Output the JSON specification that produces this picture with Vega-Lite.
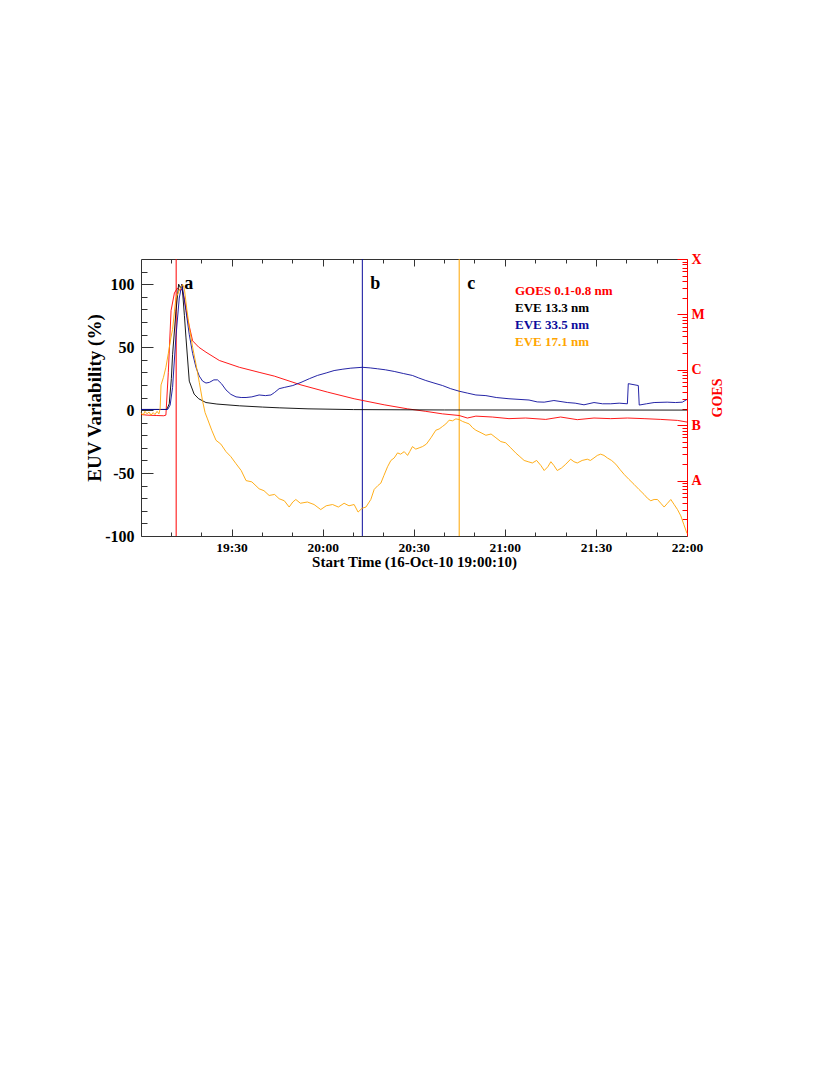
{
  "$schema": "https://vega.github.io/schema/vega-lite/v6.json",
  "width": 546,
  "height": 277,
  "autosize": {"type": "pad"},
  "padding": {"left": 85, "top": 252, "right": 5, "bottom": 5},
  "background": "white",
  "config": {
    "view": {"stroke": null},
    "font": "Liberation Serif",
    "axis": {"grid": false, "labelFont": "Liberation Serif", "titleFont": "Liberation Serif", "labelFontWeight": "bold", "titleFontWeight": "bold", "labelColor": "black", "titleColor": "black", "domainColor": "#333", "tickColor": "#333", "labelOverlap": false}
  },
  "datasets": {
    "curves": [
      {"time": "2010-10-16T19:00:10", "series": "GOES 0.1-0.8 nm", "value": -3.5},
      {"time": "2010-10-16T19:02:10", "series": "GOES 0.1-0.8 nm", "value": -4},
      {"time": "2010-10-16T19:05:10", "series": "GOES 0.1-0.8 nm", "value": -4.3},
      {"time": "2010-10-16T19:07:40", "series": "GOES 0.1-0.8 nm", "value": -4.5},
      {"time": "2010-10-16T19:08:22", "series": "GOES 0.1-0.8 nm", "value": -4},
      {"time": "2010-10-16T19:09:10", "series": "GOES 0.1-0.8 nm", "value": 30},
      {"time": "2010-10-16T19:10:04", "series": "GOES 0.1-0.8 nm", "value": 79},
      {"time": "2010-10-16T19:11:10", "series": "GOES 0.1-0.8 nm", "value": 93},
      {"time": "2010-10-16T19:12:10", "series": "GOES 0.1-0.8 nm", "value": 97},
      {"time": "2010-10-16T19:12:58", "series": "GOES 0.1-0.8 nm", "value": 95},
      {"time": "2010-10-16T19:13:40", "series": "GOES 0.1-0.8 nm", "value": 96},
      {"time": "2010-10-16T19:14:28", "series": "GOES 0.1-0.8 nm", "value": 88},
      {"time": "2010-10-16T19:15:28", "series": "GOES 0.1-0.8 nm", "value": 73},
      {"time": "2010-10-16T19:17:10", "series": "GOES 0.1-0.8 nm", "value": 55},
      {"time": "2010-10-16T19:19:10", "series": "GOES 0.1-0.8 nm", "value": 50},
      {"time": "2010-10-16T19:21:34", "series": "GOES 0.1-0.8 nm", "value": 46},
      {"time": "2010-10-16T19:25:58", "series": "GOES 0.1-0.8 nm", "value": 39.4},
      {"time": "2010-10-16T19:32:34", "series": "GOES 0.1-0.8 nm", "value": 34},
      {"time": "2010-10-16T19:39:04", "series": "GOES 0.1-0.8 nm", "value": 30},
      {"time": "2010-10-16T19:44:04", "series": "GOES 0.1-0.8 nm", "value": 27},
      {"time": "2010-10-16T19:52:52", "series": "GOES 0.1-0.8 nm", "value": 20},
      {"time": "2010-10-16T20:01:34", "series": "GOES 0.1-0.8 nm", "value": 14.3},
      {"time": "2010-10-16T20:10:22", "series": "GOES 0.1-0.8 nm", "value": 9},
      {"time": "2010-10-16T20:20:16", "series": "GOES 0.1-0.8 nm", "value": 4.2},
      {"time": "2010-10-16T20:27:58", "series": "GOES 0.1-0.8 nm", "value": 1},
      {"time": "2010-10-16T20:33:58", "series": "GOES 0.1-0.8 nm", "value": -1},
      {"time": "2010-10-16T20:39:28", "series": "GOES 0.1-0.8 nm", "value": -3},
      {"time": "2010-10-16T20:44:58", "series": "GOES 0.1-0.8 nm", "value": -4.3},
      {"time": "2010-10-16T20:47:40", "series": "GOES 0.1-0.8 nm", "value": -6.3},
      {"time": "2010-10-16T20:50:28", "series": "GOES 0.1-0.8 nm", "value": -4.8},
      {"time": "2010-10-16T20:55:52", "series": "GOES 0.1-0.8 nm", "value": -5.5},
      {"time": "2010-10-16T21:01:22", "series": "GOES 0.1-0.8 nm", "value": -6.8},
      {"time": "2010-10-16T21:06:52", "series": "GOES 0.1-0.8 nm", "value": -6.3},
      {"time": "2010-10-16T21:13:28", "series": "GOES 0.1-0.8 nm", "value": -7.4},
      {"time": "2010-10-16T21:18:22", "series": "GOES 0.1-0.8 nm", "value": -5.5},
      {"time": "2010-10-16T21:23:52", "series": "GOES 0.1-0.8 nm", "value": -7.6},
      {"time": "2010-10-16T21:29:22", "series": "GOES 0.1-0.8 nm", "value": -6.3},
      {"time": "2010-10-16T21:34:52", "series": "GOES 0.1-0.8 nm", "value": -6.8},
      {"time": "2010-10-16T21:40:22", "series": "GOES 0.1-0.8 nm", "value": -6.3},
      {"time": "2010-10-16T21:45:52", "series": "GOES 0.1-0.8 nm", "value": -6.8},
      {"time": "2010-10-16T21:51:22", "series": "GOES 0.1-0.8 nm", "value": -7.4},
      {"time": "2010-10-16T21:56:52", "series": "GOES 0.1-0.8 nm", "value": -8.2},
      {"time": "2010-10-16T22:00:00", "series": "GOES 0.1-0.8 nm", "value": -9.5},

      {"time": "2010-10-16T19:00:10", "series": "EVE 13.3 nm", "value": 0.5},
      {"time": "2010-10-16T19:08:40", "series": "EVE 13.3 nm", "value": 0.5},
      {"time": "2010-10-16T19:09:28", "series": "EVE 13.3 nm", "value": 5},
      {"time": "2010-10-16T19:10:10", "series": "EVE 13.3 nm", "value": 25},
      {"time": "2010-10-16T19:10:34", "series": "EVE 13.3 nm", "value": 44},
      {"time": "2010-10-16T19:11:40", "series": "EVE 13.3 nm", "value": 78},
      {"time": "2010-10-16T19:12:34", "series": "EVE 13.3 nm", "value": 100},
      {"time": "2010-10-16T19:13:10", "series": "EVE 13.3 nm", "value": 97},
      {"time": "2010-10-16T19:13:40", "series": "EVE 13.3 nm", "value": 100},
      {"time": "2010-10-16T19:14:28", "series": "EVE 13.3 nm", "value": 75},
      {"time": "2010-10-16T19:14:58", "series": "EVE 13.3 nm", "value": 58},
      {"time": "2010-10-16T19:16:04", "series": "EVE 13.3 nm", "value": 23},
      {"time": "2010-10-16T19:17:40", "series": "EVE 13.3 nm", "value": 12.7},
      {"time": "2010-10-16T19:19:10", "series": "EVE 13.3 nm", "value": 9},
      {"time": "2010-10-16T19:21:34", "series": "EVE 13.3 nm", "value": 6},
      {"time": "2010-10-16T19:25:10", "series": "EVE 13.3 nm", "value": 4.8},
      {"time": "2010-10-16T19:32:34", "series": "EVE 13.3 nm", "value": 3.4},
      {"time": "2010-10-16T19:40:10", "series": "EVE 13.3 nm", "value": 2.4},
      {"time": "2010-10-16T19:45:40", "series": "EVE 13.3 nm", "value": 1.8},
      {"time": "2010-10-16T19:55:10", "series": "EVE 13.3 nm", "value": 1},
      {"time": "2010-10-16T20:10:10", "series": "EVE 13.3 nm", "value": 0.4},
      {"time": "2010-10-16T20:40:10", "series": "EVE 13.3 nm", "value": 0.1},
      {"time": "2010-10-16T22:00:00", "series": "EVE 13.3 nm", "value": 0},

      {"time": "2010-10-16T19:00:10", "series": "EVE 33.5 nm", "value": 0.5},
      {"time": "2010-10-16T19:08:58", "series": "EVE 33.5 nm", "value": 0.5},
      {"time": "2010-10-16T19:09:46", "series": "EVE 33.5 nm", "value": 4},
      {"time": "2010-10-16T19:10:34", "series": "EVE 33.5 nm", "value": 18},
      {"time": "2010-10-16T19:11:40", "series": "EVE 33.5 nm", "value": 58},
      {"time": "2010-10-16T19:12:46", "series": "EVE 33.5 nm", "value": 89},
      {"time": "2010-10-16T19:13:40", "series": "EVE 33.5 nm", "value": 100},
      {"time": "2010-10-16T19:14:58", "series": "EVE 33.5 nm", "value": 79},
      {"time": "2010-10-16T19:16:04", "series": "EVE 33.5 nm", "value": 60},
      {"time": "2010-10-16T19:17:10", "series": "EVE 33.5 nm", "value": 45},
      {"time": "2010-10-16T19:18:16", "series": "EVE 33.5 nm", "value": 34},
      {"time": "2010-10-16T19:19:22", "series": "EVE 33.5 nm", "value": 27},
      {"time": "2010-10-16T19:20:28", "series": "EVE 33.5 nm", "value": 23},
      {"time": "2010-10-16T19:21:34", "series": "EVE 33.5 nm", "value": 21.5},
      {"time": "2010-10-16T19:22:40", "series": "EVE 33.5 nm", "value": 22},
      {"time": "2010-10-16T19:24:10", "series": "EVE 33.5 nm", "value": 24},
      {"time": "2010-10-16T19:25:22", "series": "EVE 33.5 nm", "value": 24},
      {"time": "2010-10-16T19:26:40", "series": "EVE 33.5 nm", "value": 21},
      {"time": "2010-10-16T19:28:10", "series": "EVE 33.5 nm", "value": 16},
      {"time": "2010-10-16T19:29:46", "series": "EVE 33.5 nm", "value": 12.5},
      {"time": "2010-10-16T19:31:28", "series": "EVE 33.5 nm", "value": 10.5},
      {"time": "2010-10-16T19:33:10", "series": "EVE 33.5 nm", "value": 10},
      {"time": "2010-10-16T19:34:46", "series": "EVE 33.5 nm", "value": 10},
      {"time": "2010-10-16T19:36:40", "series": "EVE 33.5 nm", "value": 10.5},
      {"time": "2010-10-16T19:39:04", "series": "EVE 33.5 nm", "value": 12},
      {"time": "2010-10-16T19:41:10", "series": "EVE 33.5 nm", "value": 11.5},
      {"time": "2010-10-16T19:42:58", "series": "EVE 33.5 nm", "value": 12},
      {"time": "2010-10-16T19:44:10", "series": "EVE 33.5 nm", "value": 14},
      {"time": "2010-10-16T19:45:40", "series": "EVE 33.5 nm", "value": 17},
      {"time": "2010-10-16T19:47:22", "series": "EVE 33.5 nm", "value": 18},
      {"time": "2010-10-16T19:50:10", "series": "EVE 33.5 nm", "value": 19.5},
      {"time": "2010-10-16T19:52:52", "series": "EVE 33.5 nm", "value": 22},
      {"time": "2010-10-16T19:55:40", "series": "EVE 33.5 nm", "value": 25},
      {"time": "2010-10-16T19:58:16", "series": "EVE 33.5 nm", "value": 27.5},
      {"time": "2010-10-16T20:01:10", "series": "EVE 33.5 nm", "value": 29.5},
      {"time": "2010-10-16T20:03:46", "series": "EVE 33.5 nm", "value": 31.4},
      {"time": "2010-10-16T20:06:40", "series": "EVE 33.5 nm", "value": 32.5},
      {"time": "2010-10-16T20:09:16", "series": "EVE 33.5 nm", "value": 33.3},
      {"time": "2010-10-16T20:13:04", "series": "EVE 33.5 nm", "value": 34},
      {"time": "2010-10-16T20:15:40", "series": "EVE 33.5 nm", "value": 33.5},
      {"time": "2010-10-16T20:18:04", "series": "EVE 33.5 nm", "value": 32.8},
      {"time": "2010-10-16T20:20:40", "series": "EVE 33.5 nm", "value": 32},
      {"time": "2010-10-16T20:23:34", "series": "EVE 33.5 nm", "value": 30.7},
      {"time": "2010-10-16T20:26:40", "series": "EVE 33.5 nm", "value": 29},
      {"time": "2010-10-16T20:29:34", "series": "EVE 33.5 nm", "value": 27.5},
      {"time": "2010-10-16T20:31:40", "series": "EVE 33.5 nm", "value": 25.5},
      {"time": "2010-10-16T20:33:58", "series": "EVE 33.5 nm", "value": 23.5},
      {"time": "2010-10-16T20:36:40", "series": "EVE 33.5 nm", "value": 21.5},
      {"time": "2010-10-16T20:39:28", "series": "EVE 33.5 nm", "value": 19.5},
      {"time": "2010-10-16T20:42:10", "series": "EVE 33.5 nm", "value": 17},
      {"time": "2010-10-16T20:44:58", "series": "EVE 33.5 nm", "value": 15},
      {"time": "2010-10-16T20:47:40", "series": "EVE 33.5 nm", "value": 13.5},
      {"time": "2010-10-16T20:50:28", "series": "EVE 33.5 nm", "value": 12},
      {"time": "2010-10-16T20:53:46", "series": "EVE 33.5 nm", "value": 11.5},
      {"time": "2010-10-16T20:57:10", "series": "EVE 33.5 nm", "value": 10},
      {"time": "2010-10-16T21:01:22", "series": "EVE 33.5 nm", "value": 9},
      {"time": "2010-10-16T21:04:40", "series": "EVE 33.5 nm", "value": 8.5},
      {"time": "2010-10-16T21:07:58", "series": "EVE 33.5 nm", "value": 8},
      {"time": "2010-10-16T21:10:40", "series": "EVE 33.5 nm", "value": 6.5},
      {"time": "2010-10-16T21:12:58", "series": "EVE 33.5 nm", "value": 6.3},
      {"time": "2010-10-16T21:16:10", "series": "EVE 33.5 nm", "value": 7.6},
      {"time": "2010-10-16T21:20:34", "series": "EVE 33.5 nm", "value": 6},
      {"time": "2010-10-16T21:23:10", "series": "EVE 33.5 nm", "value": 5.5},
      {"time": "2010-10-16T21:26:04", "series": "EVE 33.5 nm", "value": 4.2},
      {"time": "2010-10-16T21:29:22", "series": "EVE 33.5 nm", "value": 6},
      {"time": "2010-10-16T21:32:10", "series": "EVE 33.5 nm", "value": 5},
      {"time": "2010-10-16T21:34:52", "series": "EVE 33.5 nm", "value": 5},
      {"time": "2010-10-16T21:37:40", "series": "EVE 33.5 nm", "value": 5.5},
      {"time": "2010-10-16T21:40:22", "series": "EVE 33.5 nm", "value": 5},
      {"time": "2010-10-16T21:40:40", "series": "EVE 33.5 nm", "value": 21},
      {"time": "2010-10-16T21:43:58", "series": "EVE 33.5 nm", "value": 19.5},
      {"time": "2010-10-16T21:44:16", "series": "EVE 33.5 nm", "value": 4},
      {"time": "2010-10-16T21:46:40", "series": "EVE 33.5 nm", "value": 5},
      {"time": "2010-10-16T21:49:10", "series": "EVE 33.5 nm", "value": 6},
      {"time": "2010-10-16T21:53:28", "series": "EVE 33.5 nm", "value": 6.3},
      {"time": "2010-10-16T21:56:10", "series": "EVE 33.5 nm", "value": 6},
      {"time": "2010-10-16T21:58:28", "series": "EVE 33.5 nm", "value": 6.3},
      {"time": "2010-10-16T22:00:00", "series": "EVE 33.5 nm", "value": 8.5},

      {"time": "2010-10-16T19:00:10", "series": "EVE 17.1 nm", "value": -2},
      {"time": "2010-10-16T19:00:52", "series": "EVE 17.1 nm", "value": -4},
      {"time": "2010-10-16T19:01:28", "series": "EVE 17.1 nm", "value": -1},
      {"time": "2010-10-16T19:02:10", "series": "EVE 17.1 nm", "value": -3},
      {"time": "2010-10-16T19:02:46", "series": "EVE 17.1 nm", "value": -1.5},
      {"time": "2010-10-16T19:03:28", "series": "EVE 17.1 nm", "value": -4},
      {"time": "2010-10-16T19:04:10", "series": "EVE 17.1 nm", "value": -2},
      {"time": "2010-10-16T19:04:46", "series": "EVE 17.1 nm", "value": -3.5},
      {"time": "2010-10-16T19:05:28", "series": "EVE 17.1 nm", "value": -1},
      {"time": "2010-10-16T19:06:04", "series": "EVE 17.1 nm", "value": -3},
      {"time": "2010-10-16T19:06:28", "series": "EVE 17.1 nm", "value": 1},
      {"time": "2010-10-16T19:06:46", "series": "EVE 17.1 nm", "value": 20},
      {"time": "2010-10-16T19:07:34", "series": "EVE 17.1 nm", "value": 26},
      {"time": "2010-10-16T19:08:22", "series": "EVE 17.1 nm", "value": 34},
      {"time": "2010-10-16T19:09:10", "series": "EVE 17.1 nm", "value": 45},
      {"time": "2010-10-16T19:10:04", "series": "EVE 17.1 nm", "value": 58},
      {"time": "2010-10-16T19:10:34", "series": "EVE 17.1 nm", "value": 64},
      {"time": "2010-10-16T19:11:10", "series": "EVE 17.1 nm", "value": 78},
      {"time": "2010-10-16T19:11:40", "series": "EVE 17.1 nm", "value": 89},
      {"time": "2010-10-16T19:12:46", "series": "EVE 17.1 nm", "value": 95},
      {"time": "2010-10-16T19:13:52", "series": "EVE 17.1 nm", "value": 100},
      {"time": "2010-10-16T19:14:28", "series": "EVE 17.1 nm", "value": 96},
      {"time": "2010-10-16T19:15:16", "series": "EVE 17.1 nm", "value": 80},
      {"time": "2010-10-16T19:16:04", "series": "EVE 17.1 nm", "value": 66},
      {"time": "2010-10-16T19:17:10", "series": "EVE 17.1 nm", "value": 50},
      {"time": "2010-10-16T19:18:16", "series": "EVE 17.1 nm", "value": 36.5},
      {"time": "2010-10-16T19:19:22", "series": "EVE 17.1 nm", "value": 22},
      {"time": "2010-10-16T19:20:28", "series": "EVE 17.1 nm", "value": 7},
      {"time": "2010-10-16T19:21:16", "series": "EVE 17.1 nm", "value": -2},
      {"time": "2010-10-16T19:22:04", "series": "EVE 17.1 nm", "value": -7},
      {"time": "2010-10-16T19:23:28", "series": "EVE 17.1 nm", "value": -16},
      {"time": "2010-10-16T19:24:52", "series": "EVE 17.1 nm", "value": -24},
      {"time": "2010-10-16T19:26:28", "series": "EVE 17.1 nm", "value": -27},
      {"time": "2010-10-16T19:28:10", "series": "EVE 17.1 nm", "value": -33},
      {"time": "2010-10-16T19:29:46", "series": "EVE 17.1 nm", "value": -37},
      {"time": "2010-10-16T19:31:28", "series": "EVE 17.1 nm", "value": -42.6},
      {"time": "2010-10-16T19:33:10", "series": "EVE 17.1 nm", "value": -48},
      {"time": "2010-10-16T19:34:46", "series": "EVE 17.1 nm", "value": -56},
      {"time": "2010-10-16T19:36:40", "series": "EVE 17.1 nm", "value": -57},
      {"time": "2010-10-16T19:39:04", "series": "EVE 17.1 nm", "value": -62.5},
      {"time": "2010-10-16T19:40:40", "series": "EVE 17.1 nm", "value": -64},
      {"time": "2010-10-16T19:42:22", "series": "EVE 17.1 nm", "value": -67.8},
      {"time": "2010-10-16T19:44:10", "series": "EVE 17.1 nm", "value": -67},
      {"time": "2010-10-16T19:45:40", "series": "EVE 17.1 nm", "value": -70.4},
      {"time": "2010-10-16T19:47:22", "series": "EVE 17.1 nm", "value": -72},
      {"time": "2010-10-16T19:48:58", "series": "EVE 17.1 nm", "value": -77},
      {"time": "2010-10-16T19:50:10", "series": "EVE 17.1 nm", "value": -73},
      {"time": "2010-10-16T19:51:10", "series": "EVE 17.1 nm", "value": -71},
      {"time": "2010-10-16T19:52:40", "series": "EVE 17.1 nm", "value": -74},
      {"time": "2010-10-16T19:54:58", "series": "EVE 17.1 nm", "value": -73},
      {"time": "2010-10-16T19:57:10", "series": "EVE 17.1 nm", "value": -75},
      {"time": "2010-10-16T19:59:22", "series": "EVE 17.1 nm", "value": -79},
      {"time": "2010-10-16T20:01:10", "series": "EVE 17.1 nm", "value": -76},
      {"time": "2010-10-16T20:03:16", "series": "EVE 17.1 nm", "value": -75},
      {"time": "2010-10-16T20:05:10", "series": "EVE 17.1 nm", "value": -77},
      {"time": "2010-10-16T20:07:04", "series": "EVE 17.1 nm", "value": -74},
      {"time": "2010-10-16T20:08:40", "series": "EVE 17.1 nm", "value": -76},
      {"time": "2010-10-16T20:10:22", "series": "EVE 17.1 nm", "value": -75},
      {"time": "2010-10-16T20:11:40", "series": "EVE 17.1 nm", "value": -81},
      {"time": "2010-10-16T20:12:58", "series": "EVE 17.1 nm", "value": -78},
      {"time": "2010-10-16T20:14:16", "series": "EVE 17.1 nm", "value": -77},
      {"time": "2010-10-16T20:15:52", "series": "EVE 17.1 nm", "value": -71},
      {"time": "2010-10-16T20:16:58", "series": "EVE 17.1 nm", "value": -63},
      {"time": "2010-10-16T20:18:10", "series": "EVE 17.1 nm", "value": -60},
      {"time": "2010-10-16T20:19:10", "series": "EVE 17.1 nm", "value": -58},
      {"time": "2010-10-16T20:20:10", "series": "EVE 17.1 nm", "value": -52},
      {"time": "2010-10-16T20:21:22", "series": "EVE 17.1 nm", "value": -45},
      {"time": "2010-10-16T20:22:28", "series": "EVE 17.1 nm", "value": -40},
      {"time": "2010-10-16T20:23:34", "series": "EVE 17.1 nm", "value": -38},
      {"time": "2010-10-16T20:24:40", "series": "EVE 17.1 nm", "value": -34},
      {"time": "2010-10-16T20:25:40", "series": "EVE 17.1 nm", "value": -35},
      {"time": "2010-10-16T20:26:52", "series": "EVE 17.1 nm", "value": -33},
      {"time": "2010-10-16T20:27:58", "series": "EVE 17.1 nm", "value": -36},
      {"time": "2010-10-16T20:28:40", "series": "EVE 17.1 nm", "value": -33},
      {"time": "2010-10-16T20:29:34", "series": "EVE 17.1 nm", "value": -29},
      {"time": "2010-10-16T20:30:40", "series": "EVE 17.1 nm", "value": -31},
      {"time": "2010-10-16T20:31:46", "series": "EVE 17.1 nm", "value": -30},
      {"time": "2010-10-16T20:32:52", "series": "EVE 17.1 nm", "value": -29},
      {"time": "2010-10-16T20:34:10", "series": "EVE 17.1 nm", "value": -27},
      {"time": "2010-10-16T20:35:40", "series": "EVE 17.1 nm", "value": -22},
      {"time": "2010-10-16T20:37:16", "series": "EVE 17.1 nm", "value": -16},
      {"time": "2010-10-16T20:38:22", "series": "EVE 17.1 nm", "value": -15},
      {"time": "2010-10-16T20:39:28", "series": "EVE 17.1 nm", "value": -13},
      {"time": "2010-10-16T20:40:34", "series": "EVE 17.1 nm", "value": -11},
      {"time": "2010-10-16T20:41:40", "series": "EVE 17.1 nm", "value": -8},
      {"time": "2010-10-16T20:42:46", "series": "EVE 17.1 nm", "value": -8.5},
      {"time": "2010-10-16T20:43:52", "series": "EVE 17.1 nm", "value": -7},
      {"time": "2010-10-16T20:44:58", "series": "EVE 17.1 nm", "value": -7.5},
      {"time": "2010-10-16T20:46:04", "series": "EVE 17.1 nm", "value": -9},
      {"time": "2010-10-16T20:47:10", "series": "EVE 17.1 nm", "value": -10},
      {"time": "2010-10-16T20:48:16", "series": "EVE 17.1 nm", "value": -11},
      {"time": "2010-10-16T20:49:22", "series": "EVE 17.1 nm", "value": -14},
      {"time": "2010-10-16T20:50:28", "series": "EVE 17.1 nm", "value": -16},
      {"time": "2010-10-16T20:52:10", "series": "EVE 17.1 nm", "value": -18},
      {"time": "2010-10-16T20:53:46", "series": "EVE 17.1 nm", "value": -20},
      {"time": "2010-10-16T20:55:28", "series": "EVE 17.1 nm", "value": -19},
      {"time": "2010-10-16T20:57:04", "series": "EVE 17.1 nm", "value": -22},
      {"time": "2010-10-16T20:58:40", "series": "EVE 17.1 nm", "value": -25},
      {"time": "2010-10-16T21:00:16", "series": "EVE 17.1 nm", "value": -26},
      {"time": "2010-10-16T21:01:58", "series": "EVE 17.1 nm", "value": -30},
      {"time": "2010-10-16T21:03:34", "series": "EVE 17.1 nm", "value": -34},
      {"time": "2010-10-16T21:04:58", "series": "EVE 17.1 nm", "value": -37},
      {"time": "2010-10-16T21:06:22", "series": "EVE 17.1 nm", "value": -40},
      {"time": "2010-10-16T21:07:40", "series": "EVE 17.1 nm", "value": -41},
      {"time": "2010-10-16T21:09:04", "series": "EVE 17.1 nm", "value": -42},
      {"time": "2010-10-16T21:10:28", "series": "EVE 17.1 nm", "value": -40},
      {"time": "2010-10-16T21:11:52", "series": "EVE 17.1 nm", "value": -44},
      {"time": "2010-10-16T21:12:58", "series": "EVE 17.1 nm", "value": -48},
      {"time": "2010-10-16T21:14:10", "series": "EVE 17.1 nm", "value": -45},
      {"time": "2010-10-16T21:15:10", "series": "EVE 17.1 nm", "value": -41},
      {"time": "2010-10-16T21:16:10", "series": "EVE 17.1 nm", "value": -44},
      {"time": "2010-10-16T21:17:16", "series": "EVE 17.1 nm", "value": -48},
      {"time": "2010-10-16T21:18:40", "series": "EVE 17.1 nm", "value": -46},
      {"time": "2010-10-16T21:20:04", "series": "EVE 17.1 nm", "value": -43},
      {"time": "2010-10-16T21:21:40", "series": "EVE 17.1 nm", "value": -39},
      {"time": "2010-10-16T21:22:46", "series": "EVE 17.1 nm", "value": -41},
      {"time": "2010-10-16T21:23:52", "series": "EVE 17.1 nm", "value": -42},
      {"time": "2010-10-16T21:25:28", "series": "EVE 17.1 nm", "value": -40},
      {"time": "2010-10-16T21:27:10", "series": "EVE 17.1 nm", "value": -39},
      {"time": "2010-10-16T21:28:10", "series": "EVE 17.1 nm", "value": -40},
      {"time": "2010-10-16T21:29:22", "series": "EVE 17.1 nm", "value": -38},
      {"time": "2010-10-16T21:30:28", "series": "EVE 17.1 nm", "value": -36},
      {"time": "2010-10-16T21:31:34", "series": "EVE 17.1 nm", "value": -35},
      {"time": "2010-10-16T21:32:40", "series": "EVE 17.1 nm", "value": -36},
      {"time": "2010-10-16T21:33:46", "series": "EVE 17.1 nm", "value": -38},
      {"time": "2010-10-16T21:35:10", "series": "EVE 17.1 nm", "value": -40},
      {"time": "2010-10-16T21:36:34", "series": "EVE 17.1 nm", "value": -43},
      {"time": "2010-10-16T21:37:52", "series": "EVE 17.1 nm", "value": -47},
      {"time": "2010-10-16T21:39:16", "series": "EVE 17.1 nm", "value": -51},
      {"time": "2010-10-16T21:40:52", "series": "EVE 17.1 nm", "value": -55},
      {"time": "2010-10-16T21:42:34", "series": "EVE 17.1 nm", "value": -59},
      {"time": "2010-10-16T21:44:10", "series": "EVE 17.1 nm", "value": -63},
      {"time": "2010-10-16T21:45:52", "series": "EVE 17.1 nm", "value": -67},
      {"time": "2010-10-16T21:46:58", "series": "EVE 17.1 nm", "value": -70},
      {"time": "2010-10-16T21:48:04", "series": "EVE 17.1 nm", "value": -72},
      {"time": "2010-10-16T21:49:10", "series": "EVE 17.1 nm", "value": -71},
      {"time": "2010-10-16T21:50:16", "series": "EVE 17.1 nm", "value": -71},
      {"time": "2010-10-16T21:51:22", "series": "EVE 17.1 nm", "value": -74},
      {"time": "2010-10-16T21:52:28", "series": "EVE 17.1 nm", "value": -77},
      {"time": "2010-10-16T21:53:34", "series": "EVE 17.1 nm", "value": -74},
      {"time": "2010-10-16T21:54:40", "series": "EVE 17.1 nm", "value": -71},
      {"time": "2010-10-16T21:55:46", "series": "EVE 17.1 nm", "value": -75},
      {"time": "2010-10-16T21:56:52", "series": "EVE 17.1 nm", "value": -79},
      {"time": "2010-10-16T21:57:58", "series": "EVE 17.1 nm", "value": -84},
      {"time": "2010-10-16T21:58:58", "series": "EVE 17.1 nm", "value": -91},
      {"time": "2010-10-16T22:00:00", "series": "EVE 17.1 nm", "value": -98}
    ],
    "markers": [
      {"time": "2010-10-16T19:11:45", "series": "GOES 0.1-0.8 nm", "label": "a"},
      {"time": "2010-10-16T20:13:04", "series": "EVE 33.5 nm", "label": "b"},
      {"time": "2010-10-16T20:44:58", "series": "EVE 17.1 nm", "label": "c"}
    ],
    "goes": [
      {"time": "2010-10-16T19:00:10", "flux": 1e-9},
      {"time": "2010-10-16T22:00:00", "flux": 1e-4}
    ]
  },
  "layer": [
    {
      "layer": [
        {
          "data": {"name": "markers"},
          "mark": {"type": "rule", "strokeWidth": 1},
          "encoding": {
            "x": {
              "field": "time", "type": "temporal",
              "axis": {
                "orient": "bottom", "title": null, "labels": false, "domain": false,
                "values": [
                  {"year": 2010, "month": 10, "date": 16, "hours": 19, "minutes": 10},
                  {"year": 2010, "month": 10, "date": 16, "hours": 19, "minutes": 20},
                  {"year": 2010, "month": 10, "date": 16, "hours": 19, "minutes": 40},
                  {"year": 2010, "month": 10, "date": 16, "hours": 19, "minutes": 50},
                  {"year": 2010, "month": 10, "date": 16, "hours": 20, "minutes": 10},
                  {"year": 2010, "month": 10, "date": 16, "hours": 20, "minutes": 20},
                  {"year": 2010, "month": 10, "date": 16, "hours": 20, "minutes": 40},
                  {"year": 2010, "month": 10, "date": 16, "hours": 20, "minutes": 50},
                  {"year": 2010, "month": 10, "date": 16, "hours": 21, "minutes": 10},
                  {"year": 2010, "month": 10, "date": 16, "hours": 21, "minutes": 20},
                  {"year": 2010, "month": 10, "date": 16, "hours": 21, "minutes": 40},
                  {"year": 2010, "month": 10, "date": 16, "hours": 21, "minutes": 50}
                ],
                "tickSize": -4
              }
            },
            "color": {"field": "series", "type": "nominal"}
          }
        },
        {
          "data": {"name": "curves"},
          "mark": {"type": "line", "strokeWidth": 0.9},
          "encoding": {
            "x": {
              "field": "time", "type": "temporal",
              "scale": {"domain": [{"year": 2010, "month": 10, "date": 16, "hours": 19, "minutes": 0, "seconds": 10}, {"year": 2010, "month": 10, "date": 16, "hours": 22, "minutes": 0, "seconds": 0}]},
              "axis": {
                "orient": "bottom",
                "title": "Start Time (16-Oct-10 19:00:10)",
                "titleFontSize": 15, "titlePadding": 1,
                "labelFontSize": 13.5,
                "format": "%H:%M",
                "values": [
                  {"year": 2010, "month": 10, "date": 16, "hours": 19, "minutes": 30},
                  {"year": 2010, "month": 10, "date": 16, "hours": 20, "minutes": 0},
                  {"year": 2010, "month": 10, "date": 16, "hours": 20, "minutes": 30},
                  {"year": 2010, "month": 10, "date": 16, "hours": 21, "minutes": 0},
                  {"year": 2010, "month": 10, "date": 16, "hours": 21, "minutes": 30},
                  {"year": 2010, "month": 10, "date": 16, "hours": 22, "minutes": 0}
                ],
                "tickSize": -7,
                "labelPadding": 11,
                "labelFlush": false,
                "labelOverlap": false
              }
            },
            "y": {
              "field": "value", "type": "quantitative",
              "scale": {"domain": [-100, 120], "nice": false, "zero": false},
              "axis": {
                "orient": "left",
                "title": "EUV Variability (%)",
                "titleFontSize": 19, "titlePadding": 0,
                "labelFontSize": 16,
                "values": [-100, -50, 0, 50, 100],
                "labelExpr": "'' + datum.value",
                "tickSize": -12,
                "labelPadding": 19,
                "labelOverlap": false,
                "labelFlush": false
              }
            },
            "color": {
              "field": "series", "type": "nominal",
              "scale": {"domain": ["GOES 0.1-0.8 nm", "EVE 13.3 nm", "EVE 33.5 nm", "EVE 17.1 nm"], "range": ["#ff0000", "#000000", "#0c0c9c", "#ffa500"]},
              "legend": {
                "orient": "none", "legendX": 361, "legendY": 25,
                "title": null,
                "symbolSize": 0, "symbolOpacity": 0, "symbolStrokeWidth": 0,
                "labelOffset": 0,
                "labelFont": "Liberation Serif", "labelFontSize": 13, "labelFontWeight": "bold",
                "rowPadding": 3,
                "encode": {"labels": {"update": {"fill": {"scale": "color", "field": "value"}}}}
              }
            }
          }
        },
        {
          "data": {"name": "markers"},
          "mark": {"type": "text", "align": "left", "baseline": "middle", "dx": 8, "font": "Liberation Serif", "fontWeight": "bold", "fontSize": 18, "color": "black"},
          "encoding": {
            "x": {"field": "time", "type": "temporal", "axis": null},
            "y": {
              "datum": 100,
              "axis": {
                "orient": "left", "title": null, "labels": false, "domain": false,
                "values": [-90, -80, -70, -60, -40, -30, -20, -10, 10, 20, 30, 40, 60, 70, 80, 90, 110],
                "tickSize": -6
              }
            },
            "text": {"field": "label"}
          }
        }
      ],
      "resolve": {"axis": {"x": "independent", "y": "independent"}}
    },
    {
      "data": {"name": "goes"},
      "mark": {"type": "point", "opacity": 0},
      "encoding": {
        "x": {
          "field": "time", "type": "temporal",
          "scale": {"domain": [{"year": 2010, "month": 10, "date": 16, "hours": 19, "minutes": 0, "seconds": 10}, {"year": 2010, "month": 10, "date": 16, "hours": 22, "minutes": 0, "seconds": 0}]},
          "axis": {
            "orient": "top", "title": null, "labels": false,
            "values": [
              {"year": 2010, "month": 10, "date": 16, "hours": 19, "minutes": 10},
              {"year": 2010, "month": 10, "date": 16, "hours": 19, "minutes": 20},
              {"year": 2010, "month": 10, "date": 16, "hours": 19, "minutes": 30},
              {"year": 2010, "month": 10, "date": 16, "hours": 19, "minutes": 40},
              {"year": 2010, "month": 10, "date": 16, "hours": 19, "minutes": 50},
              {"year": 2010, "month": 10, "date": 16, "hours": 20, "minutes": 0},
              {"year": 2010, "month": 10, "date": 16, "hours": 20, "minutes": 10},
              {"year": 2010, "month": 10, "date": 16, "hours": 20, "minutes": 20},
              {"year": 2010, "month": 10, "date": 16, "hours": 20, "minutes": 30},
              {"year": 2010, "month": 10, "date": 16, "hours": 20, "minutes": 40},
              {"year": 2010, "month": 10, "date": 16, "hours": 20, "minutes": 50},
              {"year": 2010, "month": 10, "date": 16, "hours": 21, "minutes": 0},
              {"year": 2010, "month": 10, "date": 16, "hours": 21, "minutes": 10},
              {"year": 2010, "month": 10, "date": 16, "hours": 21, "minutes": 20},
              {"year": 2010, "month": 10, "date": 16, "hours": 21, "minutes": 30},
              {"year": 2010, "month": 10, "date": 16, "hours": 21, "minutes": 40},
              {"year": 2010, "month": 10, "date": 16, "hours": 21, "minutes": 50}
            ],
            "tickSize": {"condition": {"test": "minutes(datum.value) % 30 == 0", "value": -7}, "value": -4}
          }
        },
        "y": {
          "field": "flux", "type": "quantitative",
          "scale": {"type": "log", "domain": [1e-9, 1e-4], "nice": false},
          "axis": {
            "orient": "right",
            "title": "GOES", "titleAngle": 270, "titleColor": "#ff0000", "titleFontSize": 14, "titlePadding": 20,
            "labelColor": "#ff0000", "domainColor": "#ff0000", "tickColor": "#ff0000",
            "labelFontSize": 14,
            "values": [2e-9, 3e-9, 4e-9, 5e-9, 6e-9, 7e-9, 8e-9, 9e-9, 1e-8, 2e-8, 3e-8, 4e-8, 5e-8, 6e-8, 7e-8, 8e-8, 9e-8, 1e-7, 2e-7, 3e-7, 4e-7, 5e-7, 6e-7, 7e-7, 8e-7, 9e-7, 1e-6, 2e-6, 3e-6, 4e-6, 5e-6, 6e-6, 7e-6, 8e-6, 9e-6, 1e-5, 2e-5, 3e-5, 4e-5, 5e-5, 6e-5, 7e-5, 8e-5, 9e-5, 1e-4],
            "labelExpr": "abs(log(datum.value)/LN10 - round(log(datum.value)/LN10)) < 0.01 ? (round(log(datum.value)/LN10) == -4 ? 'X' : round(log(datum.value)/LN10) == -5 ? 'M' : round(log(datum.value)/LN10) == -6 ? 'C' : round(log(datum.value)/LN10) == -7 ? 'B' : round(log(datum.value)/LN10) == -8 ? 'A' : '') : ''",
            "tickSize": {"condition": {"test": "abs(log(datum.value)/LN10 - round(log(datum.value)/LN10)) < 0.01", "value": -10}, "value": -5},
            "labelPadding": 14,
            "labelOverlap": false,
            "labelFlush": false
          }
        }
      }
    }
  ],
  "resolve": {"scale": {"y": "independent"}, "axis": {"x": "independent", "y": "independent"}}
}
